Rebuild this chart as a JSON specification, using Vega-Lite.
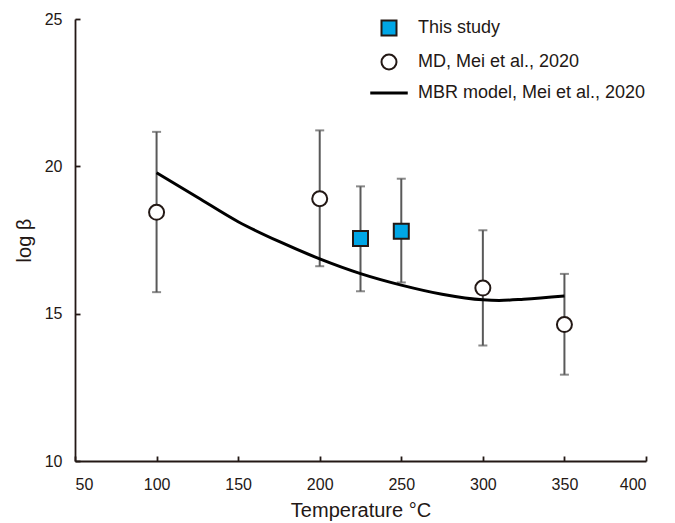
{
  "$schema": "https://vega.github.io/schema/vega-lite/v6.json",
  "autosize": {"type": "none"},
  "padding": {"left": 75, "top": 19, "right": 29, "bottom": 62},
  "width": 571,
  "height": 442,
  "config": {
    "view": {"stroke": null},
    "font": "Liberation Sans",
    "legend": {"symbolSize": 225},
    "axis": {
      "grid": false,
      "domainColor": "#231815",
      "domainWidth": 1.8,
      "tickColor": "#231815",
      "tickWidth": 1.8,
      "tickSize": -5,
      "labelColor": "#231815",
      "labelFont": "Liberation Sans",
      "labelFontSize": 16,
      "titleFont": "Liberation Sans",
      "titleColor": "#231815",
      "titleFontWeight": "normal"
    }
  },
  "data": {
    "values": [
      {"series": "This study", "temp": 225, "logb": 17.55, "lo": 15.76, "hi": 19.32},
      {"series": "This study", "temp": 250, "logb": 17.8, "lo": 16.06, "hi": 19.58},
      {"series": "MD, Mei et al., 2020", "temp": 100, "logb": 18.44, "lo": 15.73, "hi": 21.17},
      {"series": "MD, Mei et al., 2020", "temp": 200, "logb": 18.9, "lo": 16.61, "hi": 21.22},
      {"series": "MD, Mei et al., 2020", "temp": 300, "logb": 15.87, "lo": 13.92, "hi": 17.83},
      {"series": "MD, Mei et al., 2020", "temp": 350, "logb": 14.63, "lo": 12.93, "hi": 16.35},
      {"series": "MBR model, Mei et al., 2020", "temp": 100, "logb": 19.78},
      {"series": "MBR model, Mei et al., 2020", "temp": 125, "logb": 18.95},
      {"series": "MBR model, Mei et al., 2020", "temp": 150, "logb": 18.12},
      {"series": "MBR model, Mei et al., 2020", "temp": 175, "logb": 17.45},
      {"series": "MBR model, Mei et al., 2020", "temp": 200, "logb": 16.86},
      {"series": "MBR model, Mei et al., 2020", "temp": 225, "logb": 16.36},
      {"series": "MBR model, Mei et al., 2020", "temp": 250, "logb": 15.97},
      {"series": "MBR model, Mei et al., 2020", "temp": 275, "logb": 15.66},
      {"series": "MBR model, Mei et al., 2020", "temp": 300, "logb": 15.47},
      {"series": "MBR model, Mei et al., 2020", "temp": 310, "logb": 15.45},
      {"series": "MBR model, Mei et al., 2020", "temp": 325, "logb": 15.49},
      {"series": "MBR model, Mei et al., 2020", "temp": 350, "logb": 15.6}
    ]
  },
  "encoding": {
    "x": {
      "field": "temp", "type": "quantitative",
      "scale": {"domain": [50, 400], "nice": false, "zero": false},
      "axis": {"values": [50, 100, 150, 200, 250, 300, 350, 400], "title": "Temperature °C", "titleFontSize": 20, "labelPadding": 20, "titlePadding": 8}
    },
    "y": {
      "field": "logb", "type": "quantitative",
      "scale": {"domain": [10, 25], "nice": false, "zero": false},
      "axis": {"values": [10, 15, 20, 25], "title": "log β", "titleFontSize": 20, "labelPadding": 18, "titlePadding": 10}
    }
  },
  "layer": [
    {
      "transform": [{"filter": "isValid(datum.lo)"}],
      "mark": {"type": "rule", "color": "#595959", "strokeWidth": 2},
      "encoding": {"y": {"field": "lo", "type": "quantitative"}, "y2": {"field": "hi"}}
    },
    {
      "transform": [{"filter": "isValid(datum.lo)"}],
      "mark": {"type": "tick", "orient": "horizontal", "color": "#595959", "thickness": 2, "size": 9},
      "encoding": {"y": {"field": "lo", "type": "quantitative"}}
    },
    {
      "transform": [{"filter": "isValid(datum.hi)"}],
      "mark": {"type": "tick", "orient": "horizontal", "color": "#595959", "thickness": 2, "size": 9},
      "encoding": {"y": {"field": "hi", "type": "quantitative"}}
    },
    {
      "transform": [{"filter": "datum.series === 'MBR model, Mei et al., 2020'"}],
      "mark": {"type": "line", "color": "#000000", "strokeWidth": 3, "interpolate": "monotone"},
      "encoding": {}
    },
    {
      "transform": [{"filter": "isValid(datum.lo)"}],
      "mark": {"type": "point", "filled": false, "opacity": 1, "size": 225},
      "encoding": {
        "shape": {
          "field": "series", "type": "nominal",
          "scale": {"domain": ["This study", "MD, Mei et al., 2020", "MBR model, Mei et al., 2020"], "range": ["square", "circle", "M-2.5,0H2.5"]},
          "legend": {
            "title": null,
            "orient": "none",
            "legendX": 305,
            "legendY": 0,
            "padding": 0,
            "symbolSize": 225,
            "labelFont": "Liberation Sans",
            "labelFontSize": 18,
            "labelColor": "#231815",
            "labelOffset": 20,
            "labelLimit": 0,
            "rowPadding": 10
          }
        },
        "fill": {
          "field": "series", "type": "nominal",
          "scale": {"domain": ["This study", "MD, Mei et al., 2020", "MBR model, Mei et al., 2020"], "range": ["#00a6e6", "#ffffff", "transparent"]},
          "legend": {"title": null}
        },
        "stroke": {
          "field": "series", "type": "nominal",
          "scale": {"domain": ["This study", "MD, Mei et al., 2020", "MBR model, Mei et al., 2020"], "range": ["#231815", "#231815", "#000000"]},
          "legend": {"title": null}
        },
        "strokeWidth": {
          "field": "series", "type": "nominal",
          "scale": {"type": "ordinal", "domain": ["This study", "MD, Mei et al., 2020", "MBR model, Mei et al., 2020"], "range": [2, 2, 3]},
          "legend": {"title": null}
        }
      }
    }
  ]
}
